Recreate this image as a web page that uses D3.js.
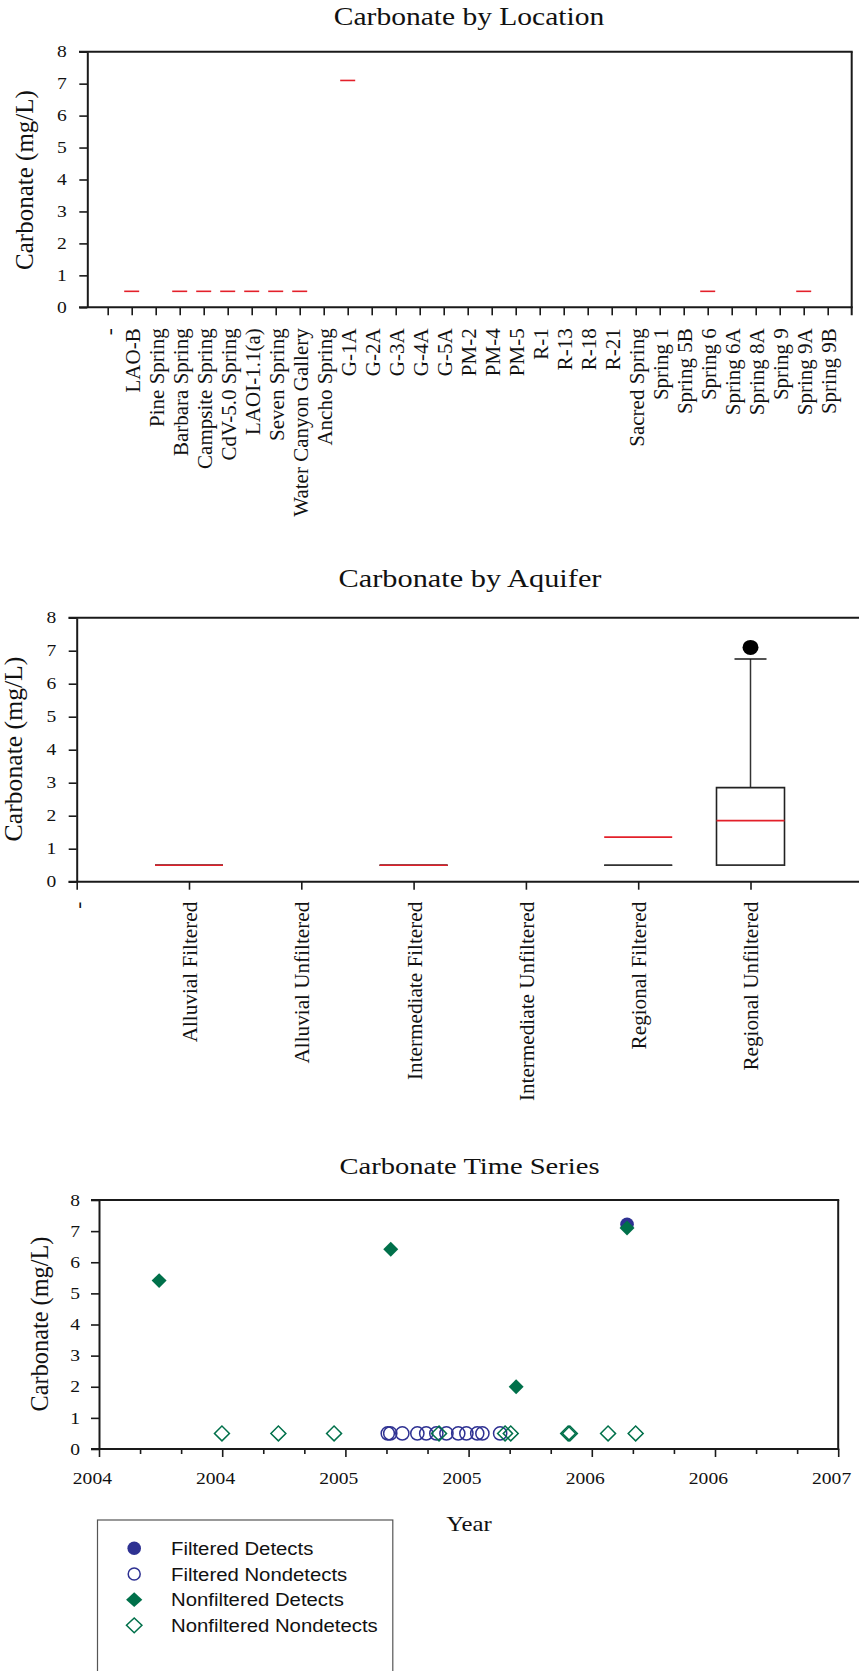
<!DOCTYPE html>
<html><head><meta charset="utf-8">
<script src="https://cdn.jsdelivr.net/npm/d3@7"></script>
<style>body{margin:0;background:#fff} svg{display:block}</style>
</head><body>
<script>
// ---------- DATA ----------
const yTicks = [0,1,2,3,4,5,6,7,8];

// Chart 1: Carbonate by Location
const locations = ["-","LAO-B","Pine Spring","Barbara Spring","Campsite Spring","CdV-5.0 Spring","LAOI-1.1(a)","Seven Spring","Water Canyon Gallery","Ancho Spring","G-1A","G-2A","G-3A","G-4A","G-5A","PM-2","PM-4","PM-5","R-1","R-13","R-18","R-21","Sacred Spring","Spring 1","Spring 5B","Spring 6","Spring 6A","Spring 8A","Spring 9","Spring 9A","Spring 9B"];
const locWithData = ["LAO-B","Barbara Spring","Campsite Spring","CdV-5.0 Spring","LAOI-1.1(a)","Seven Spring","Water Canyon Gallery","G-1A","Spring 6","Spring 9A"];
const locMean = [0.5,0.5,0.5,0.5,0.5,0.5,0.5,7.1,0.5,0.5];

// Chart 2: Carbonate by Aquifer
const aquifers = ["-","Alluvial Filtered","Alluvial Unfiltered","Intermediate Filtered","Intermediate Unfiltered","Regional Filtered","Regional Unfiltered"];
const boxAquifers = ["Alluvial Filtered","Intermediate Filtered","Regional Filtered","Regional Unfiltered"];
const boxQ1 = [0.5,0.5,0.5,0.5];
const boxMedian = [0.5,0.5,0.5,0.5];
const boxQ3 = [0.5,0.5,0.5,2.85];
const boxWhiskerHigh = [0.5,0.5,0.5,6.75];
const boxMean = [0.5,0.5,1.35,1.85];
const outlierAquifer = ["Regional Unfiltered"];
const outlierValue = [7.1];

// Chart 3: Carbonate Time Series (decimal years)
const fdDate = [2006.143];
const fdValue = [7.22];
const fnDate = [2005.172,2005.182,2005.231,2005.292,2005.328,2005.369,2005.410,2005.458,2005.491,2005.535,2005.556,2005.628];
const fnValue = [0.5,0.5,0.5,0.5,0.5,0.5,0.5,0.5,0.5,0.5,0.5,0.5];
const nfdDate = [2004.244,2005.184,2005.693,2006.143];
const nfdValue = [5.41,6.42,2.0,7.1];
const nfnDate = [2004.499,2004.728,2004.954,2005.380,2005.648,2005.671,2005.904,2005.911,2006.066,2006.178];
const nfnValue = [0.5,0.5,0.5,0.5,0.5,0.5,0.5,0.5,0.5,0.5];
const xTickValues = [2004,2004.5,2005,2005.5,2006,2006.5,2007];
const xTickLabels = ["2004","2004","2005","2005","2006","2006","2007"];
const xMinorTicks = [2004+1/6,2004+2/6,2004+4/6,2004+5/6,2005+1/6,2005+2/6,2005+4/6,2005+5/6,2006+1/6,2006+2/6,2006+4/6,2006+5/6];
const legendLabels = ["Filtered Detects","Filtered Nondetects","Nonfiltered Detects","Nonfiltered Nondetects"];

// ---------- STYLE ----------
const SERIF = "'Liberation Serif','Times New Roman',serif";
const SANS = "'Liberation Sans',Arial,sans-serif";
const RED = "#e3202a", NAVY = "#2e3192", GREEN = "#00704a", INK = "#1a1a1a";

const svg = d3.select("body").append("svg").attr("width",859).attr("height",1671);

function htext(x,y,str,size,anchor,sx,family){
  return svg.append("text").attr("transform",`translate(${x},${y}) scale(${sx},1)`)
    .attr("text-anchor",anchor).attr("font-family",family||SERIF).style("font-family",family||SERIF)
    .style("font-size",size+"px").attr("fill","#111").text(str);
}
function vtext(x,y,str,size){
  return svg.append("text").attr("transform",`translate(${x},${y}) rotate(-90)`)
    .attr("text-anchor","middle").attr("dy","0.35em").attr("font-family",SERIF).style("font-family",SERIF)
    .style("font-size",size+"px").attr("fill","#111").text(str);
}
function hline(x1,x2,y,w){ svg.append("line").attr("x1",x1).attr("x2",x2).attr("y1",y).attr("y2",y).attr("stroke",INK).attr("stroke-width",w||2); }
function vline(x,y1,y2,w){ svg.append("line").attr("x1",x).attr("x2",x).attr("y1",y1).attr("y2",y2).attr("stroke",INK).attr("stroke-width",w||2); }
function styleAxis(g,size){
  g.attr("font-family",SERIF).attr("font-size",size);
  g.select(".domain").attr("stroke",INK).attr("stroke-width",2);
  g.selectAll(".tick line").attr("stroke",INK).attr("stroke-width",1.6);
  g.selectAll("text").attr("fill","#111").attr("font-family",SERIF).style("font-family",SERIF).style("font-size",size+"px");
}
function yAxis(y,left,labelOffset){
  const g = svg.append("g").attr("transform",`translate(${left},0)`)
    .call(d3.axisLeft(y).tickValues(yTicks).tickSize(8).tickSizeOuter(0).tickFormat(""));
  styleAxis(g,16.3);
  yTicks.forEach(v=>htext(left-labelOffset, y(v)+5.7, d3.format("d")(v), 16.3, "end", 1.2));
  return g;
}

// ---------- CHART 1 ----------
{
  const L=87.3, R=851.7, T=51.7, B=307.3;
  const y = d3.scaleLinear().domain([0,8]).range([B,T]);
  const x = d3.scalePoint().domain(locations).range([107.7,827.7]);
  htext(469,25,"Carbonate by Location",24.6,"middle",1.2);
  yAxis(y,L,20.5);
  const gx = svg.append("g").attr("transform",`translate(0,${B})`)
    .call(d3.axisBottom(x).tickSize(8).tickSizeOuter(0));
  styleAxis(gx,21); gx.select(".domain").attr("stroke","none");
  gx.selectAll("text").attr("x",0).attr("y",0).attr("dy","0.35em").attr("text-anchor","end")
    .attr("transform","translate(0,21) rotate(-90)");
  hline(79,R+1,B); hline(79,R+1,T); vline(R,T,B+8);
  vtext(24,180,"Carbonate (mg/L)",25);
  svg.append("g").selectAll("line").data(locWithData).join("line")
    .attr("x1",d=>x(d)-7.5).attr("x2",d=>x(d)+7.5)
    .attr("y1",(d,i)=>y(locMean[i])).attr("y2",(d,i)=>y(locMean[i]))
    .attr("stroke",RED).attr("stroke-width",1.6);
}

// ---------- CHART 2 ----------
{
  const L=76.7, R=862, T=617.7, B=881.7, HW=34;
  const y = d3.scaleLinear().domain([0,8]).range([B,T]);
  const x = d3.scalePoint().domain(aquifers).range([76.7,750.5]);
  htext(470,586.7,"Carbonate by Aquifer",25.3,"middle",1.2);
  yAxis(y,L,20.3);
  const gx = svg.append("g").attr("transform",`translate(0,${B})`)
    .call(d3.axisBottom(x).tickSize(8).tickSizeOuter(0));
  styleAxis(gx,21.2); gx.select(".domain").attr("stroke","none");
  gx.selectAll("text").attr("x",0).attr("y",0).attr("dy","0.35em").attr("text-anchor","end")
    .attr("transform","translate(0,20) rotate(-90)");
  hline(68.5,R,B); hline(68.5,R,T);
  vtext(13,749,"Carbonate (mg/L)",25.7);
  const g = svg.append("g");
  g.selectAll("line.wh").data(boxAquifers).join("line").attr("class","wh")
    .attr("x1",d=>x(d)).attr("x2",d=>x(d))
    .attr("y1",(d,i)=>y(boxQ3[i])).attr("y2",(d,i)=>y(boxWhiskerHigh[i]))
    .attr("stroke","#333").attr("stroke-width",1.5);
  g.selectAll("line.cap").data(boxAquifers.filter((d,i)=>boxWhiskerHigh[i]>boxQ3[i])).join("line").attr("class","cap")
    .attr("x1",d=>x(d)-16).attr("x2",d=>x(d)+16)
    .attr("y1",d=>y(boxWhiskerHigh[boxAquifers.indexOf(d)])).attr("y2",d=>y(boxWhiskerHigh[boxAquifers.indexOf(d)]))
    .attr("stroke",INK).attr("stroke-width",1.6);
  g.selectAll("path.box").data(boxAquifers).join("path").attr("class","box")
    .attr("d",(d,i)=>{const a=x(d)-HW,b=x(d)+HW,t=y(boxQ3[i]),u=y(boxQ1[i]);return `M${a},${u}H${b}V${t}H${a}Z`;})
    .attr("fill","none").attr("stroke","#222").attr("stroke-width",1.6);
  g.selectAll("line.med").data(boxAquifers).join("line").attr("class","med")
    .attr("x1",d=>x(d)-HW).attr("x2",d=>x(d)+HW)
    .attr("y1",(d,i)=>y(boxMedian[i])).attr("y2",(d,i)=>y(boxMedian[i]))
    .attr("stroke","#333").attr("stroke-width",1.6);
  g.selectAll("line.mean").data(boxAquifers).join("line").attr("class","mean")
    .attr("x1",d=>x(d)-HW).attr("x2",d=>x(d)+HW)
    .attr("y1",(d,i)=>y(boxMean[i])).attr("y2",(d,i)=>y(boxMean[i]))
    .attr("stroke",RED).attr("stroke-width",1.6);
  g.selectAll("ellipse").data(outlierAquifer).join("ellipse")
    .attr("cx",d=>x(d)).attr("cy",(d,i)=>y(outlierValue[i])).attr("rx",8).attr("ry",7.5).attr("fill","#000");
}

// ---------- CHART 3 ----------
{
  const L=99, R=838.2, T=1200, B=1449;
  const y = d3.scaleLinear().domain([0,8]).range([B,T]);
  const x = d3.scaleLinear().domain([2004,2007]).range([L,R]);
  htext(469.5,1174.3,"Carbonate Time Series",23.8,"middle",1.2);
  yAxis(y,L,19);
  const gx = svg.append("g").attr("transform",`translate(0,${B})`)
    .call(d3.axisBottom(x).tickValues(xTickValues).tickSize(8).tickSizeOuter(0).tickFormat(""));
  styleAxis(gx,16.3); gx.select(".domain").attr("stroke","none");
  xTickValues.forEach((v,i)=>htext(x(v)-6.6, 1484.3, xTickLabels[i], 16.3, "middle", 1.2));
  const gm = svg.append("g").attr("transform",`translate(0,${B})`)
    .call(d3.axisBottom(x).tickValues(xMinorTicks).tickSize(5).tickSizeOuter(0).tickFormat(""));
  styleAxis(gm,16); gm.select(".domain").attr("stroke","none");
  hline(91,R+1,B); hline(91,R+1,T); vline(R,T,B);
  vtext(39,1324,"Carbonate (mg/L)",24.3);
  htext(469,1530.7,"Year",21,"middle",1.18);
  const diamond = d3.symbol().type(d3.symbolSquare).size(112)();
  const g = svg.append("g");
  g.selectAll("circle.fd").data(fdDate).join("circle").attr("class","fd")
    .attr("cx",d=>x(d)).attr("cy",(d,i)=>y(fdValue[i])).attr("r",6.8).attr("fill",NAVY);
  g.selectAll("circle.fn").data(fnDate).join("circle").attr("class","fn")
    .attr("cx",d=>x(d)).attr("cy",(d,i)=>y(fnValue[i])).attr("r",6.6)
    .attr("fill","none").attr("stroke",NAVY).attr("stroke-width",1.5);
  g.selectAll("path.nfd").data(nfdDate).join("path").attr("class","nfd").attr("d",diamond)
    .attr("transform",(d,i)=>`translate(${x(d)},${y(nfdValue[i])}) rotate(45)`).attr("fill",GREEN);
  g.selectAll("path.nfn").data(nfnDate).join("path").attr("class","nfn").attr("d",diamond)
    .attr("transform",(d,i)=>`translate(${x(d)},${y(nfnValue[i])}) rotate(45)`)
    .attr("fill","none").attr("stroke",GREEN).attr("stroke-width",1.5);

  // legend
  svg.append("rect").attr("x",97.5).attr("y",1520).attr("width",295.3).attr("height",200)
    .attr("fill","none").attr("stroke","#555").attr("stroke-width",1.2);
  const rows = [1548.3,1574,1599.7,1625.3], sx = 134.2;
  svg.append("circle").attr("cx",sx).attr("cy",rows[0]).attr("r",6.8).attr("fill",NAVY);
  svg.append("circle").attr("cx",sx).attr("cy",rows[1]).attr("r",6).attr("fill","none").attr("stroke",NAVY).attr("stroke-width",1.5);
  const ld = d3.symbol().type(d3.symbolSquare).size(120)();
  svg.append("path").attr("d",ld).attr("transform",`translate(${sx},${rows[2]}) scale(1.05,0.95) rotate(45)`).attr("fill",GREEN);
  svg.append("path").attr("d",ld).attr("transform",`translate(${sx},${rows[3]}) scale(1.0,0.95) rotate(45)`)
    .attr("fill","none").attr("stroke",GREEN).attr("stroke-width",1.5);
  legendLabels.forEach((t,i)=>htext(171,rows[i]+6.7,t,18,"start",1.13,SANS));
}
</script>
</body></html>
